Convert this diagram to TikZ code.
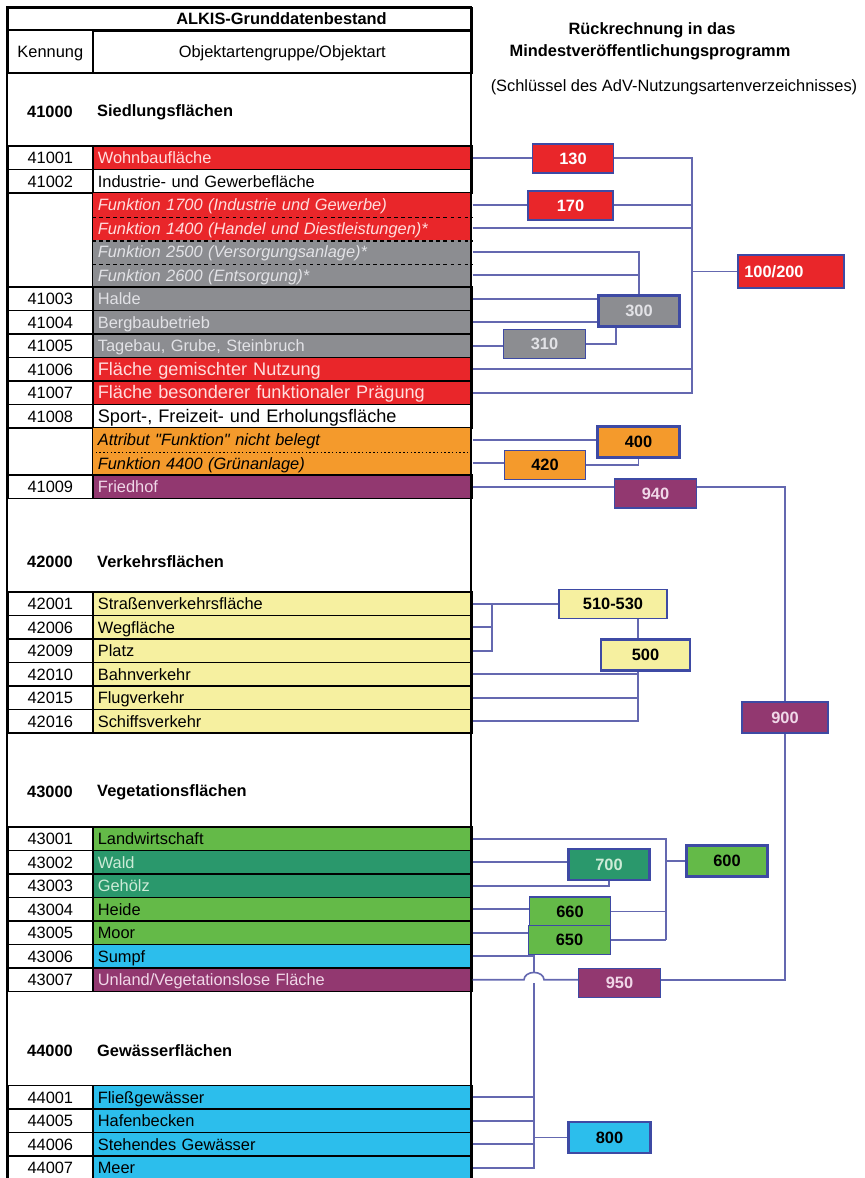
\documentclass[tikz,border=0pt]{standalone}
\usepackage{fontspec}
\setmainfont{Liberation Sans}[Ligatures=TeXOff]
\definecolor{cred}{RGB}{233,38,42}
\definecolor{cgray}{RGB}{140,141,145}
\definecolor{corange}{RGB}{244,154,44}
\definecolor{cpurple}{RGB}{146,56,112}
\definecolor{cyellow}{RGB}{246,240,160}
\definecolor{cgreen}{RGB}{100,186,72}
\definecolor{cdgreen}{RGB}{42,152,108}
\definecolor{ccyan}{RGB}{44,190,236}
\definecolor{linkblue}{RGB}{100,104,176}
\definecolor{boxblue}{RGB}{62,74,164}
\definecolor{tpink}{RGB}{255,222,222}
\definecolor{tgray}{RGB}{226,226,230}
\definecolor{tlight}{RGB}{240,215,232}
\definecolor{tmint}{RGB}{205,235,215}
\tikzset{
  kcell/.style={draw=black, line width=1.4pt, anchor=west, fill=white, minimum width=2.55cm,
    minimum height=0.705cm, inner sep=0pt, text height=10pt, text depth=0pt},
  ocell/.style={draw=black, line width=1.4pt, anchor=west, text width=11.07cm, minimum height=0.705cm,
    inner xsep=0.15cm, inner ysep=0pt, align=left, text height=10pt, text depth=0pt},
  subcell/.style={ocell, draw=none},
  big/.style={font=\fontsize{15.5}{18}\selectfont},
  tag/.style={draw=boxblue, line width=1.1pt, minimum width=2.45cm, minimum height=0.87cm,
    inner sep=0pt, font=\bfseries},
  tagb/.style={tag, line width=2.4pt, minimum height=0.93cm},
  link/.style={draw=linkblue, line width=1.4pt},
}
\begin{document}
\fontsize{14}{16}\selectfont
\begin{tikzpicture}[x=0.03cm, y=-0.03cm]
\useasboundingbox (0,0) rectangle (864,1178);
% table head
\node[draw=black, line width=1.4pt, anchor=north west, minimum width=13.92cm, minimum height=0.69cm, inner sep=0pt] (htop) at (7,7) {};
\node[font=\bfseries] (htitle) at (281.5,18.5) {ALKIS-Grunddatenbestand};
\node[kcell, minimum height=1.29cm] (hk) at (7,51.5) {Kennung};
\node[ocell, minimum height=1.29cm, align=center] (ho) at (92,51.5) {Objektartengruppe/Objektart};
% right head
\node[font=\bfseries] (hr1) at (652,30) {Rückrechnung in das};
\node[font=\bfseries] (hr2) at (650,52) {Mindestveröffentlichungsprogramm};
\node (hr3) at (674,87) {(Schlüssel des AdV-Nutzungsartenverzeichnisses)};

% 41000
\draw[line width=1.4pt] (7,73) rectangle (471,146);
\node[font=\bfseries] (n41) at (50,112) {41000};
\node[font=\bfseries, anchor=west, inner xsep=0.15cm] (t41) at (92,112) {Siedlungsflächen};
\node[kcell] (k41001) at (7,157.75) {41001};
\node[ocell, fill=cred, text=tpink] (r41001) at (92,157.75) {Wohnbaufläche};
\node[kcell] (k41002) at (7,181.25) {41002};
\node[ocell, fill=white] (r41002) at (92,181.25) {Industrie- und Gewerbefläche};
\node[kcell, minimum height=2.82cm] (kf41002) at (7,240) {};
\node[subcell, fill=cred, text=tpink, font=\itshape] (rf17) at (92,204.75) {Funktion 1700 (Industrie und Gewerbe)};
\node[subcell, fill=cred, text=tpink, font=\itshape] (rf14) at (92,228.25) {Funktion 1400 (Handel und Diestleistungen)*};
\node[subcell, fill=cgray, text=tgray, font=\itshape] (rf25) at (92,251.75) {Funktion 2500 (Versorgungsanlage)*};
\node[subcell, fill=cgray, text=tgray, font=\itshape] (rf26) at (92,275.25) {Funktion 2600 (Entsorgung)*};
\draw[dashed, line width=1.2pt] (rf17.south west) -- (rf17.south east);
\draw[dashed, line width=1.2pt] (rf14.south west) -- (rf14.south east);
\draw[dashed, line width=1.2pt] (rf25.south west) -- (rf25.south east);
\node[kcell] (k41003) at (7,298.75) {41003};
\node[ocell, fill=cgray, text=tgray] (r41003) at (92,298.75) {Halde};
\node[kcell] (k41004) at (7,322.25) {41004};
\node[ocell, fill=cgray, text=tgray] (r41004) at (92,322.25) {Bergbaubetrieb};
\node[kcell] (k41005) at (7,345.75) {41005};
\node[ocell, fill=cgray, text=tgray] (r41005) at (92,345.75) {Tagebau, Grube, Steinbruch};
\node[kcell] (k41006) at (7,369.25) {41006};
\node[ocell, fill=cred, text=tpink, big] (r41006) at (92,369.25) {Fläche gemischter Nutzung};
\node[kcell] (k41007) at (7,392.75) {41007};
\node[ocell, fill=cred, text=tpink, big] (r41007) at (92,392.75) {Fläche besonderer funktionaler Prägung};
\node[kcell] (k41008) at (7,416.25) {41008};
\node[ocell, fill=white, big] (r41008) at (92,416.25) {Sport-, Freizeit- und Erholungsfläche};
\node[kcell, minimum height=1.41cm] (kf41008) at (7,451.5) {};
\node[subcell, fill=corange, font=\itshape] (rattr) at (92,439.75) {Attribut "Funktion" nicht belegt};
\node[subcell, fill=corange, font=\itshape] (rf44) at (92,463.25) {Funktion 4400 (Grünanlage)};
\draw[dotted, line width=1.2pt] (rattr.south west) -- (rattr.south east);
\node[kcell] (k41009) at (7,486.75) {41009};
\node[ocell, fill=cpurple, text=tlight] (r41009) at (92,486.75) {Friedhof};

% 42000
\draw[line width=1.4pt] (7,498.5) rectangle (471,592);
\node[font=\bfseries] (n42) at (50,562) {42000};
\node[font=\bfseries, anchor=west, inner xsep=0.15cm] (t42) at (92,562) {Verkehrsflächen};
\node[kcell] (k42001) at (7,603.75) {42001};
\node[ocell, fill=cyellow] (r42001) at (92,603.75) {Straßenverkehrsfläche};
\node[kcell] (k42006) at (7,627.25) {42006};
\node[ocell, fill=cyellow] (r42006) at (92,627.25) {Wegfläche};
\node[kcell] (k42009) at (7,650.75) {42009};
\node[ocell, fill=cyellow] (r42009) at (92,650.75) {Platz};
\node[kcell] (k42010) at (7,674.25) {42010};
\node[ocell, fill=cyellow] (r42010) at (92,674.25) {Bahnverkehr};
\node[kcell] (k42015) at (7,697.75) {42015};
\node[ocell, fill=cyellow] (r42015) at (92,697.75) {Flugverkehr};
\node[kcell] (k42016) at (7,721.25) {42016};
\node[ocell, fill=cyellow] (r42016) at (92,721.25) {Schiffsverkehr};

% 43000
\draw[line width=1.4pt] (7,733) rectangle (471,827);
\node[font=\bfseries] (n43) at (50,792) {43000};
\node[font=\bfseries, anchor=west, inner xsep=0.15cm] (t43) at (92,792) {Vegetationsflächen};
\node[kcell] (k43001) at (7,838.75) {43001};
\node[ocell, fill=cgreen] (r43001) at (92,838.75) {Landwirtschaft};
\node[kcell] (k43002) at (7,862.25) {43002};
\node[ocell, fill=cdgreen, text=tmint] (r43002) at (92,862.25) {Wald};
\node[kcell] (k43003) at (7,885.75) {43003};
\node[ocell, fill=cdgreen, text=tmint] (r43003) at (92,885.75) {Gehölz};
\node[kcell] (k43004) at (7,909.25) {43004};
\node[ocell, fill=cgreen] (r43004) at (92,909.25) {Heide};
\node[kcell] (k43005) at (7,932.75) {43005};
\node[ocell, fill=cgreen] (r43005) at (92,932.75) {Moor};
\node[kcell] (k43006) at (7,956.25) {43006};
\node[ocell, fill=ccyan] (r43006) at (92,956.25) {Sumpf};
\node[kcell] (k43007) at (7,979.75) {43007};
\node[ocell, fill=cpurple, text=tlight] (r43007) at (92,979.75) {Unland/Vegetationslose Fläche};

% 44000
\draw[line width=1.4pt] (7,991.5) rectangle (471,1085.5);
\node[font=\bfseries] (n44) at (50,1051) {44000};
\node[font=\bfseries, anchor=west, inner xsep=0.15cm] (t44) at (92,1051) {Gewässerflächen};
\node[kcell] (k44001) at (7,1097.25) {44001};
\node[ocell, fill=ccyan] (r44001) at (92,1097.25) {Fließgewässer};
\node[kcell] (k44005) at (7,1120.75) {44005};
\node[ocell, fill=ccyan] (r44005) at (92,1120.75) {Hafenbecken};
\node[kcell] (k44006) at (7,1144.25) {44006};
\node[ocell, fill=ccyan] (r44006) at (92,1144.25) {Stehendes Gewässer};
\node[kcell] (k44007) at (7,1167.75) {44007};
\node[ocell, fill=ccyan] (r44007) at (92,1167.75) {Meer};
\draw[line width=1.8pt] (7,1190) -- (7,7) -- (471,7) -- (471,1190);

% Nutzungsarten
\node[tag, fill=cred, text=white] (b130) at (573,158.5) {130};
\node[tag, fill=cred, text=white, minimum width=2.55cm] (b170) at (570.5,205.5) {170};
\node[tagb, fill=cred, text=white, minimum width=3.18cm, minimum height=0.99cm, text width=2.8cm, align=left] (b100) at (791,271.5) {100/200};
\node[tagb, fill=cgray, text=tgray] (b300) at (639,311) {300};
\node[tag, fill=cgray, text=tgray] (b310) at (544.5,344) {310};
\node[tagb, fill=corange] (b400) at (638.5,442) {400};
\node[tag, fill=corange] (b420) at (545,465) {420};
\node[tag, fill=cpurple, text=tlight] (b940) at (655.5,493.5) {940};
\node[tag, fill=cyellow, minimum width=3.24cm] (b510) at (613,604) {510-530};
\node[tagb, fill=cyellow, minimum width=2.67cm] (b500) at (645.5,655) {500};
\node[tagb, fill=cpurple, text=tlight, minimum width=2.58cm] (b900) at (785,717.5) {900};
\node[tagb, fill=cdgreen, text=tmint] (b700) at (609,864.5) {700};
\node[tagb, fill=cgreen] (b600) at (727,861) {600};
\node[tag, fill=cgreen] (b660) at (570,911.5) {660};
\node[tag, fill=cgreen] (b650) at (569.5,940) {650};
\node[tag, fill=cpurple, text=tlight] (b950) at (619.5,983) {950};
\node[tagb, fill=ccyan] (b800) at (609.5,1137.5) {800};

\coordinate (j1) at (692,0);
\coordinate (j4) at (492,0);
\coordinate (j5) at (638,0);
\coordinate (j6) at (666,0);
\coordinate (hop) at (534,979.75);

% Siedlung
\draw[link] (r41001.east) -- (r41001.east -| b130.west);
\draw[link] (b130.east |- r41001.east) -- (r41001.east -| j1) -- (r41007.east -| j1) -- (r41007.east);
\draw[link] (rf17.east) -- (rf17.east -| b170.west);
\draw[link] (b170.east |- rf17.east) -- (rf17.east -| j1);
\draw[link] (rf14.east) -- (rf14.east -| j1);
\draw[link] (r41006.east) -- (r41006.east -| j1);
\draw[link] (b100.west -| j1) -- (b100.west);
\draw[link] (rf25.east) -| (b300.north);
\draw[link] (rf26.east) -- (rf26.east -| b300.north);
\draw[link] (r41003.east) -- (r41003.east -| b300.west);
\draw[link] (r41004.east) -- (r41004.east -| b300.west);
\draw[link] (r41005.east) -- (r41005.east -| b310.west);
\draw[link] (b310.east) -| ([xshift=-0.69cm]b300.south);
\draw[link] (rattr.east) -- (rattr.east -| b400.west);
\draw[link] (rf44.east) -- (rf44.east -| b420.west);
\draw[link] (b420.east) -| (b400.south);
% Friedhof, Unland
\draw[link] (r41009.east) -- (r41009.east -| b940.west);
\draw[link] (b940.east |- r41009.east) -| (b900.north);
\draw[link] (b900.south) |- (r43007.east -| b950.east);
\draw[link] (r43007.east) -- ([xshift=-0.3cm]hop) arc (180:0:0.3cm and 0.22cm) -- (r43007.east -| b950.west);
% Verkehr
\draw[link] (r42001.east) -- (r42001.east -| b510.west);
\draw[link] (r42009.east) -| (r42001.east -| j4);
\draw[link] (r42006.east) -- (r42006.east -| j4);
\draw[link] (b500.north -| j5) -- (b510.south -| j5);
\draw[link] (b500.south -| j5) |- (r42016.east);
\draw[link] (r42010.east) -- (r42010.east -| j5);
\draw[link] (r42015.east) -- (r42015.east -| j5);
% Vegetation
\draw[link] (r43001.east) -| (b650.east -| j6);
\draw[link] (r43002.east) -- (r43002.east -| b700.west);
\draw[link] (r43003.east) -| (b700.south);
\draw[link] (r43004.east) -- (r43004.east -| b660.west);
\draw[link] (r43005.east) -- (r43005.east -| b650.west);
\draw[link] (b660.east) -- (b660.east -| j6);
\draw[link] (b650.east) -- (b650.east -| j6);
\draw[link] (b600.west -| j6) -- (b600.west);
% Wasser
\draw[link] (r43006.east) -| ([yshift=0.22cm]hop);
\draw[link] ([yshift=-0.1cm]hop) |- (r44007.east);
\draw[link] (r44001.east) -- (r44001.east -| hop);
\draw[link] (r44005.east) -- (r44005.east -| hop);
\draw[link] (r44006.east) -- (r44006.east -| hop);
\draw[link] (b800.west -| hop) -- (b800.west);
\end{tikzpicture}
\end{document}
